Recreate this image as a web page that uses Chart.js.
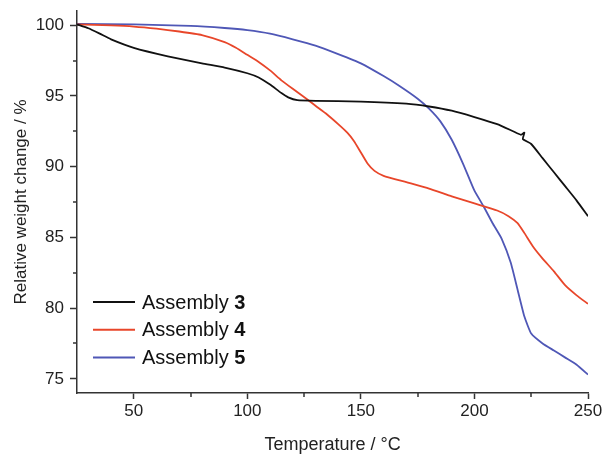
<!DOCTYPE html>
<html>
<head>
<meta charset="utf-8">
<script src="https://cdn.jsdelivr.net/npm/chart.js@4.4.1/dist/chart.umd.min.js"></script>
<style>
  body { margin: 0; background: #fff; }
  canvas { display: block; }
</style>
</head>
<body>
<canvas id="tga" width="604" height="454"></canvas>
<script>
/* DATA */
const temp3 = [25, 30, 35, 40, 50, 65, 80, 90, 100, 105, 110, 115, 118, 122, 130, 150, 170, 180, 190, 200, 210, 217, 220.5, 222, 221.3, 225, 230, 235, 240, 245, 250];
const weight3 = [100.05, 99.78, 99.4, 99.0, 98.4, 97.8, 97.3, 97.0, 96.6, 96.3, 95.8, 95.2, 94.9, 94.7, 94.65, 94.6, 94.45, 94.25, 93.95, 93.5, 93.0, 92.5, 92.25, 92.4, 91.95, 91.6, 90.6, 89.6, 88.6, 87.6, 86.5];

const temp4 = [25, 40, 50, 60, 70, 80, 90, 95, 100, 105, 110, 115, 120, 126, 130, 135, 140, 144, 147, 150, 153, 156, 160, 170, 180, 190, 200, 210, 215, 219, 222, 226, 230, 235, 240, 245, 250];
const weight4 = [100.05, 99.98, 99.9, 99.75, 99.55, 99.3, 98.8, 98.4, 97.9, 97.4, 96.8, 96.1, 95.5, 94.8, 94.3, 93.7, 93.0, 92.4, 91.8, 91.0, 90.2, 89.7, 89.35, 88.9, 88.45, 87.9, 87.4, 86.9, 86.5, 86.0, 85.3, 84.3, 83.5, 82.6, 81.6, 80.9, 80.3];

const temp5 = [25, 50, 75, 90, 100, 110, 120, 130, 140, 150, 160, 167, 175, 180, 185, 190, 195, 200, 204, 208, 212, 216, 219, 222, 225, 230, 235, 240, 245, 250];
const weight5 = [100.08, 100.05, 99.95, 99.8, 99.65, 99.4, 99.0, 98.55, 97.95, 97.3, 96.4, 95.7, 94.8, 94.1, 93.2, 91.9, 90.2, 88.3, 87.2, 86.0, 84.9, 83.2, 81.3, 79.4, 78.2, 77.5, 77.0, 76.5, 76.0, 75.3];

const assemblies = ["3", "4", "5"];
const colors = ["#111111", "#e8462a", "#4f57b6"];

const xTicks = [50, 75, 100, 125, 150, 175, 200, 225, 250];
const xLabels = [50, 100, 150, 200, 250];
const yTicks = [75, 77.5, 80, 82.5, 85, 87.5, 90, 92.5, 95, 97.5, 100];
const yLabels = [75, 80, 85, 90, 95, 100];

const FONT = "'Liberation Sans', Arial, sans-serif";
const AXIS = "#333333";

function toPoints(t, w) {
  return t.map((x, i) => ({ x: x, y: w[i] }));
}

/* short minor ticks drawn over the axes */
const minorTicks = {
  id: "minorTicks",
  afterDraw(chart) {
    const c = chart.ctx;
    const xs = chart.scales.x, ys = chart.scales.y;
    c.save();
    c.strokeStyle = AXIS;
    c.lineWidth = 1.5;
    c.beginPath();
    xTicks.filter(v => !xLabels.includes(v)).forEach(v => {
      const px = Math.round(xs.getPixelForValue(v));
      c.moveTo(px, ys.bottom);
      c.lineTo(px, ys.bottom + 4);
    });
    yTicks.filter(v => !yLabels.includes(v)).forEach(v => {
      const py = Math.round(ys.getPixelForValue(v));
      c.moveTo(xs.left, py);
      c.lineTo(xs.left - 4, py);
    });
    c.stroke();
    c.restore();
  }
};

/* legend with bold assembly numbers */
const boldLegend = {
  id: "boldLegend",
  afterDraw(chart) {
    const c = chart.ctx;
    const area = chart.chartArea;
    c.save();
    c.textBaseline = "middle";
    assemblies.forEach((a, i) => {
      const y = area.top + 291 + i * 27.7;
      const x0 = area.left + 16;
      c.strokeStyle = colors[i];
      c.lineWidth = 2;
      c.beginPath();
      c.moveTo(x0, y);
      c.lineTo(x0 + 42, y);
      c.stroke();
      c.fillStyle = "#111";
      c.font = "20px " + FONT;
      const txt = "Assembly ";
      c.fillText(txt, x0 + 49, y + 1);
      const w = c.measureText(txt).width;
      c.font = "bold 20px " + FONT;
      c.fillText(a, x0 + 49 + w, y + 1);
    });
    c.restore();
  }
};

const ctx = document.getElementById("tga");
new Chart(ctx, {
  type: "scatter",
  data: {
    datasets: [
      { label: "Assembly 3", data: toPoints(temp3, weight3) },
      { label: "Assembly 4", data: toPoints(temp4, weight4) },
      { label: "Assembly 5", data: toPoints(temp5, weight5) }
    ].map((d, i) => Object.assign(d, {
      showLine: true,
      borderColor: colors[i],
      borderWidth: 1.8,
      pointRadius: 0,
      tension: 0.15,
      fill: false
    }))
  },
  plugins: [minorTicks, boldLegend],
  options: {
    responsive: false,
    animation: false,
    layout: {
      padding: { top: 11, right: 16, left: 0, bottom: 0 }
    },
    scales: {
      x: {
        type: "linear",
        min: 25,
        max: 250,
        afterBuildTicks: function (scale) {
          scale.ticks = xLabels.map(v => ({ value: v }));
        },
        afterFit: function (scale) {
          scale.height = 61;
          scale.paddingLeft = 0;
          scale.paddingRight = 0;
        },
        ticks: {
          color: "#222",
          font: { family: FONT, size: 17 },
          padding: 2,
          maxRotation: 0
        },
        grid: {
          drawOnChartArea: false,
          drawTicks: true,
          tickLength: 6,
          tickWidth: 1.5,
          tickColor: AXIS
        },
        border: { display: true, color: AXIS, width: 1.5 },
        title: {
          display: true,
          text: "Temperature / °C",
          color: "#222",
          font: { family: FONT, size: 18, lineHeight: 1 },
          padding: { top: 4, bottom: 0 }
        }
      },
      y: {
        type: "linear",
        min: 74,
        max: 101,
        afterBuildTicks: function (scale) {
          scale.ticks = yLabels.map(v => ({ value: v }));
        },
        afterFit: function (scale) {
          scale.width = 77;
          scale.paddingTop = 0;
          scale.paddingBottom = 0;
        },
        ticks: {
          color: "#222",
          font: { family: FONT, size: 17 },
          padding: 6
        },
        grid: {
          drawOnChartArea: false,
          drawTicks: true,
          tickLength: 7,
          tickWidth: 1.5,
          tickColor: AXIS
        },
        border: { display: true, color: AXIS, width: 1.5 },
        title: {
          display: true,
          text: "Relative weight change / %",
          color: "#222",
          font: { family: FONT, size: 17 },
          padding: { top: 11, bottom: 0 }
        }
      }
    },
    plugins: {
      legend: { display: false },
      tooltip: { enabled: false }
    }
  }
});
</script>
</body>
</html>
